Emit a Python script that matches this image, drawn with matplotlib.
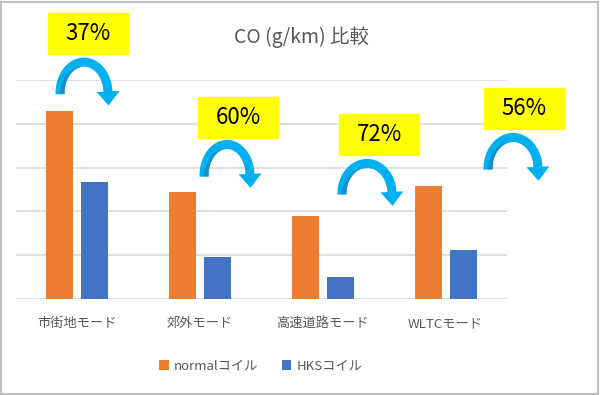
import numpy as np
import matplotlib
matplotlib.use('Agg')
import matplotlib.pyplot as plt
from matplotlib.patches import Polygon, Rectangle

plt.rcParams['font.family'] = ['Noto Sans CJK JP', 'DejaVu Sans']

# データ
categories = ['市街地モード', '郊外モード', '高速道路モード', 'WLTCモード']
normal_coil = [4.30, 2.45, 1.90, 2.57]
hks_coil = [2.68, 0.96, 0.51, 1.11]
reduction = ['37%', '60%', '72%', '56%']

# 注記の位置 (データ座標)
box_pos = [(0.087, 6.06), (1.31, 4.15), (2.46, 3.75), (3.64, 4.35)]
arrow_pos = [(0.054, 4.70), (1.219, 2.82), (2.359, 2.41), (3.549, 2.98)]
arrow_r = [(24, 31), (23, 31), (25, 30), (25, 31)]  # px

orange = '#ED7D31'
blue = '#4472C4'
grey = '#595959'

fig = plt.figure(figsize=(6, 3.95), dpi=100)
ax = fig.add_axes([16 / 600, 1 - 299 / 395, 491 / 600, 219 / 395])

x = np.arange(len(categories))
w = 0.22
ax.bar(x - 0.143, normal_coil, w, color=orange, label='normalコイル', zorder=3)
ax.bar(x + 0.143, hks_coil, w, color=blue, label='HKSコイル', zorder=3)

ax.set_xlim(-0.5, 3.5)
ax.set_ylim(0, 5)
ax.set_yticks(range(6))
ax.set_yticklabels([])
ax.grid(axis='y', color='#D9D9D9', lw=1.2, zorder=0)
ax.set_xticks(x)
ax.set_xticklabels(categories, fontsize=9.5, color=grey)
ax.tick_params(length=0, pad=13)
for s in ax.spines.values():
    s.set_visible(False)

fig.text(0.502, 1 - 37 / 395, 'CO (g/km) 比較', ha='center', va='center',
         fontsize=14, color=grey)

fig.legend(loc='center', bbox_to_anchor=(261 / 600, 1 - 366 / 395), ncol=2,
           frameon=False, fontsize=9.5, handlelength=0.7, handleheight=0.7,
           handletextpad=0.4, columnspacing=1.8, labelcolor=grey)

# 黄色ボックス
bw = 80 / 122.75
bh = 41 / 43.8
for (bx, by), t in zip(box_pos, reduction):
    ax.add_patch(Rectangle((bx - bw / 2, by - bh / 2), bw, bh, color='#FFFF00',
                           clip_on=False, zorder=5))
    ax.text(bx, by, t, ha='center', va='center', fontsize=16, color='black',
            clip_on=False, zorder=6)

# 曲がった矢印
inv = ax.transData.inverted()
band = 9.0
for (cx, cy), (rx, ry) in zip(arrow_pos, arrow_r):
    c = ax.transData.transform((cx, cy))

    def pt(r_off, t):
        return np.column_stack([c[0] + (rx + r_off) * np.cos(t),
                                c[1] + (ry + r_off) * np.sin(t)])

    th = np.radians(np.linspace(182, 3, 80))
    outer = pt(band / 2, th)
    inner = pt(-band / 2, th)
    # 矢じり
    te = th[-1]
    d = np.array([rx * np.sin(te), -ry * np.cos(te)])
    d = d / np.linalg.norm(d)
    nrm = np.array([-d[1], d[0]])
    mid = pt(0, np.array([te]))[0]
    h1 = mid + nrm * 11.5
    h2 = mid - nrm * 11.5
    if np.dot(h1 - mid, outer[-1] - mid) > 0:
        h1, h2 = h2, h1
    tip = mid + d * 14
    body = np.vstack([outer, h2, tip, h1, inner[::-1]])
    ax.add_patch(Polygon(inv.transform(body), closed=True, color='#00B0F0',
                         clip_on=False, zorder=5, lw=0))
    # 影
    th2 = np.radians(np.linspace(182, 95, 50))
    taper = np.linspace(1, 0, len(th2))
    in_edge = pt(-band / 2, th2)
    sh_edge = np.column_stack([c[0] + (rx - band / 2 + band * 0.55 * taper) * np.cos(th2),
                               c[1] + (ry - band / 2 + band * 0.55 * taper) * np.sin(th2)])
    shade = np.vstack([in_edge, sh_edge[::-1]])
    ax.add_patch(Polygon(inv.transform(shade), closed=True, color='#168FC8',
                         clip_on=False, zorder=5, lw=0))

fig.add_artist(Rectangle((0.002, 0.003), 0.995, 0.993, transform=fig.transFigure,
                         fill=False, edgecolor='#BFBFBF', lw=1.5))

fig.savefig('out.png', dpi=100)
